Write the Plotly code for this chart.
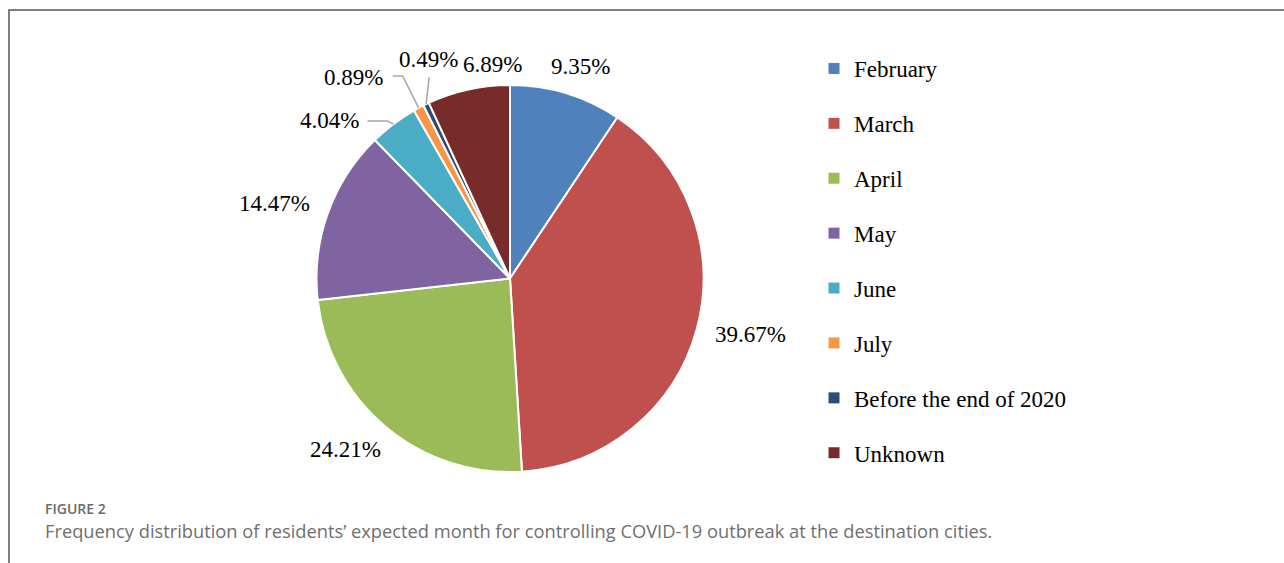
import math
import plotly.graph_objects as go

# ---- data ----
categories = ["February", "March", "April", "May", "June", "July",
              "Before the end of 2020", "Unknown"]
percentages = [9.35, 39.67, 24.21, 14.47, 4.04, 0.89, 0.49, 6.89]
colors = ["#4F81BD", "#C0504D", "#9BBB59", "#8064A2", "#4BACC6", "#F79646",
          "#2C4D75", "#772C2A"]

# ---- layout constants (pixels) ----
W, H = 1284, 563
CX, CY, R = 510.0, 278.5, 193.5
# label offset from slice-edge midpoint to label centre
label_offsets = [(14, -27), (54, 6), (-40, 23), (-53, -10), (-64, -4),
                 (-65, -30), (2, -45), (24, -25)]
# leader lines: None, or (start offset from label centre, elbow x offset from edge)
leaders = [None, None, None, None, ((38, 1), -6), ((39, -2), -16), ((1, 18), None), None]

SERIF = "Liberation Serif, Times New Roman, serif"


def px(x):
    return x / W


def py(y):
    return 1 - y / H


fig = go.Figure()
fig.add_trace(go.Pie(
    labels=categories, values=percentages, sort=False, direction="clockwise",
    rotation=0, textinfo="none", hoverinfo="label+percent", showlegend=False,
    marker=dict(colors=colors, line=dict(color="white", width=2)),
    domain=dict(x=[px(CX - R), px(CX + R)], y=[py(CY + R), py(CY - R)]),
))

# legend via invisible scatter entries, one group each for spacing
for i, (cat, col) in enumerate(zip(categories, colors)):
    fig.add_trace(go.Scatter(
        x=[None], y=[None], mode="markers", name=cat, legendgroup=f"g{i}",
        marker=dict(symbol="square", size=11, color=col), showlegend=True,
    ))

total = sum(percentages)
cum = 0.0
annotations = []
shapes = []
for i, v in enumerate(percentages):
    mid = (cum + v / 2) / total * 2 * math.pi
    cum += v
    ex = CX + R * math.sin(mid)
    ey = CY - R * math.cos(mid)
    dx, dy = label_offsets[i]
    lx, ly = ex + dx, ey + dy
    annotations.append(dict(
        x=px(lx), y=py(ly), xref="paper", yref="paper", showarrow=False,
        text=f"{v:.2f}%", xanchor="center", yanchor="middle",
        font=dict(family=SERIF, size=23, color="#000000"),
    ))
    if leaders[i] is not None:
        (sx, sy), elb = leaders[i]
        x0, y0 = lx + sx, ly + sy
        pts = [(x0, y0)]
        if elb is not None:
            pts.append((ex + elb, y0))
        pts.append((ex, ey))
        path = "M " + " L ".join(f"{px(a)},{py(b)}" for a, b in pts)
        shapes.append(dict(type="path", path=path, xref="paper", yref="paper",
                           line=dict(color="#A6A6A6", width=1.5)))

# frame
shapes.append(dict(type="rect", xref="paper", yref="paper",
                   x0=px(9), y0=py(10), x1=px(1300), y1=py(600),
                   line=dict(color="#555555", width=1.5)))

annotations.append(dict(
    x=px(43), y=py(508), xref="paper", yref="paper", showarrow=False,
    text="FIGURE 2", xanchor="left", yanchor="middle",
    font=dict(family="Open Sans, sans-serif", size=14, color="#6B6B6B", weight=600),
))
annotations.append(dict(
    x=px(43), y=py(530), xref="paper", yref="paper", showarrow=False,
    text="Frequency distribution of residents\u2019 expected month for controlling COVID-19 outbreak at the destination cities.",
    xanchor="left", yanchor="middle",
    font=dict(family="Open Sans, sans-serif", size=18.3, color="#6F6F6F"),
))

fig.update_layout(
    width=W, height=H, autosize=False,
    margin=dict(l=0, r=0, t=0, b=0),
    paper_bgcolor="white", plot_bgcolor="white",
    xaxis=dict(visible=False), yaxis=dict(visible=False),
    showlegend=True,
    legend=dict(x=px(814), y=py(47), xanchor="left", yanchor="top",
                font=dict(family=SERIF, size=23, color="#000000"),
                tracegroupgap=22, bgcolor="rgba(0,0,0,0)"),
    annotations=annotations, shapes=shapes,
)

fig.write_html("out.html")
